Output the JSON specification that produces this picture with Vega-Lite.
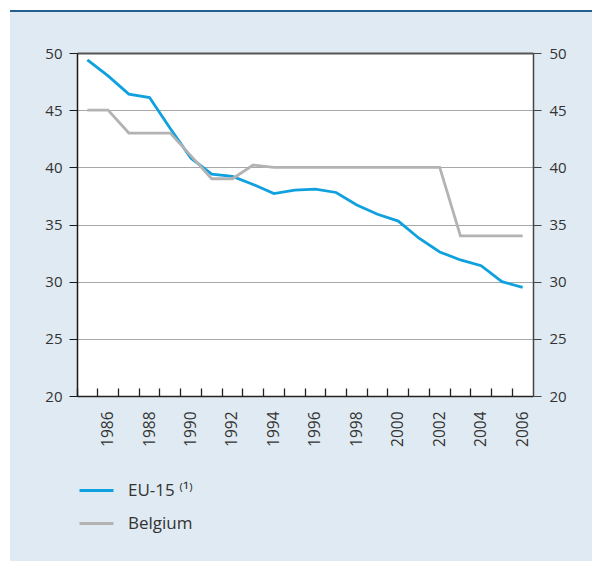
{
  "$schema": "https://vega.github.io/schema/vega-lite/v6.json",
  "background": "#e0eaf2",
  "padding": 0,
  "config": {
    "view": {"stroke": null},
    "font": "Open Sans",
    "concat": {"spacing": 0}
  },
  "bounds": "flush",
  "spacing": 0,
  "hconcat": [
    {"width": 10, "height": 561, "data": {"values": []}, "mark": "point", "view": {"fill": "white", "stroke": null}},
    {
      "bounds": "flush",
      "spacing": 0,
      "vconcat": [
        {"width": 582, "height": 10, "data": {"values": []}, "mark": "point", "view": {"fill": "white", "stroke": null}},
        {"width": 582, "height": 2, "data": {"values": []}, "mark": "point", "view": {"fill": "#235f91", "stroke": null}},
        {"width": 582, "height": 41, "data": {"values": []}, "mark": "point"},
        {
          "bounds": "flush",
          "spacing": 0,
          "hconcat": [
            {"width": 67, "height": 343, "data": {"values": []}, "mark": "point"},
            {
              "width": 456,
              "height": 343,
              "view": {"fill": "white", "stroke": null},
              "data": {"values": [
                {"year": 1985, "series": "EU-15", "value": 49.4},
                {"year": 1986, "series": "EU-15", "value": 48.0},
                {"year": 1987, "series": "EU-15", "value": 46.4},
                {"year": 1988, "series": "EU-15", "value": 46.1},
                {"year": 1989, "series": "EU-15", "value": 43.4},
                {"year": 1990, "series": "EU-15", "value": 40.8},
                {"year": 1991, "series": "EU-15", "value": 39.4},
                {"year": 1992, "series": "EU-15", "value": 39.2},
                {"year": 1993, "series": "EU-15", "value": 38.5},
                {"year": 1994, "series": "EU-15", "value": 37.7},
                {"year": 1995, "series": "EU-15", "value": 38.0},
                {"year": 1996, "series": "EU-15", "value": 38.1},
                {"year": 1997, "series": "EU-15", "value": 37.8},
                {"year": 1998, "series": "EU-15", "value": 36.7},
                {"year": 1999, "series": "EU-15", "value": 35.9},
                {"year": 2000, "series": "EU-15", "value": 35.3},
                {"year": 2001, "series": "EU-15", "value": 33.8},
                {"year": 2002, "series": "EU-15", "value": 32.6},
                {"year": 2003, "series": "EU-15", "value": 31.9},
                {"year": 2004, "series": "EU-15", "value": 31.4},
                {"year": 2005, "series": "EU-15", "value": 30.0},
                {"year": 2006, "series": "EU-15", "value": 29.5},
                {"year": 1985, "series": "Belgium", "value": 45},
                {"year": 1986, "series": "Belgium", "value": 45},
                {"year": 1987, "series": "Belgium", "value": 43},
                {"year": 1988, "series": "Belgium", "value": 43},
                {"year": 1989, "series": "Belgium", "value": 43},
                {"year": 1990, "series": "Belgium", "value": 41},
                {"year": 1991, "series": "Belgium", "value": 39},
                {"year": 1992, "series": "Belgium", "value": 39},
                {"year": 1993, "series": "Belgium", "value": 40.2},
                {"year": 1994, "series": "Belgium", "value": 40},
                {"year": 1995, "series": "Belgium", "value": 40},
                {"year": 1996, "series": "Belgium", "value": 40},
                {"year": 1997, "series": "Belgium", "value": 40},
                {"year": 1998, "series": "Belgium", "value": 40},
                {"year": 1999, "series": "Belgium", "value": 40},
                {"year": 2000, "series": "Belgium", "value": 40},
                {"year": 2001, "series": "Belgium", "value": 40},
                {"year": 2002, "series": "Belgium", "value": 40},
                {"year": 2003, "series": "Belgium", "value": 34},
                {"year": 2004, "series": "Belgium", "value": 34},
                {"year": 2005, "series": "Belgium", "value": 34},
                {"year": 2006, "series": "Belgium", "value": 34}
              ]},
              "layer": [
                {
                  "mark": {"type": "line", "strokeWidth": 2.8},
                  "encoding": {
                    "x": {
                      "field": "year", "type": "ordinal", "bandPosition": 0.5,
                      "scale": {"type": "band", "paddingInner": 0, "paddingOuter": 0},
                      "axis": {
                        "title": null, "bandPosition": 0, "labelAngle": -90, "labelAlign": "right", "labelBaseline": "middle",
                        "tickSize": -8, "tickColor": "#222222", "tickWidth": 1.3,
                        "labelPadding": 23, "labelFontSize": 15.5, "labelColor": "#333333",
                        "labelExpr": "datum.value % 2 == 0 ? datum.label : ''",
                        "domainColor": "#222222", "domainWidth": 1.5, "grid": false
                      }
                    },
                    "y": {
                      "field": "value", "type": "quantitative",
                      "scale": {"domain": [20, 50], "nice": false, "zero": false},
                      "axis": {
                        "title": null, "orient": "left", "values": [20, 25, 30, 35, 40, 45, 50],
                        "grid": true, "gridColor": "#a8a8a8", "gridWidth": 1,
                        "domainColor": "#1a1a1a", "domainWidth": 1.5, "tickColor": "#1a1a1a", "tickSize": 8,
                        "labelPadding": 7, "labelFontSize": 15, "labelColor": "#333333"
                      }
                    },
                    "color": {
                      "field": "series", "type": "nominal",
                      "scale": {"domain": ["EU-15", "Belgium"], "range": ["#0fa0de", "#b3b3b3"]},
                      "legend": {
                        "orient": "none", "legendX": 78, "legendY": 472, "title": null,
                        "symbolType": "stroke", "symbolSize": 1156, "symbolStrokeWidth": 3,
                        "labelFontSize": 17, "labelColor": "#333333", "labelOffset": 13,
                        "rowPadding": 6, "padding": 0,
                        "labelExpr": "datum.label == 'EU-15' ? 'EU-15 ⁽¹⁾' : datum.label"
                      }
                    }
                  }
                },
                {
                  "mark": {"type": "line", "opacity": 0},
                  "encoding": {
                    "x": {
                      "field": "year", "type": "ordinal",
                      "scale": {"type": "band", "paddingInner": 0, "paddingOuter": 0},
                      "axis": {"title": null, "orient": "top", "ticks": false, "labels": false, "domainColor": "#555555", "domainWidth": 2, "grid": false}
                    },
                    "y": {
                      "field": "value", "type": "quantitative",
                      "scale": {"domain": [20, 50], "nice": false, "zero": false},
                      "axis": {
                        "title": null, "orient": "right", "values": [20, 25, 30, 35, 40, 45, 50], "grid": false,
                        "domainColor": "#444444", "domainWidth": 1.5, "tickColor": "#444444", "tickSize": 8,
                        "labelPadding": 8, "labelFontSize": 15, "labelColor": "#333333"
                      }
                    },
                    "detail": {"field": "series"}
                  }
                }
              ],
              "resolve": {"axis": {"x": "independent", "y": "independent"}}
            }
          ]
        }
      ]
    }
  ]
}
